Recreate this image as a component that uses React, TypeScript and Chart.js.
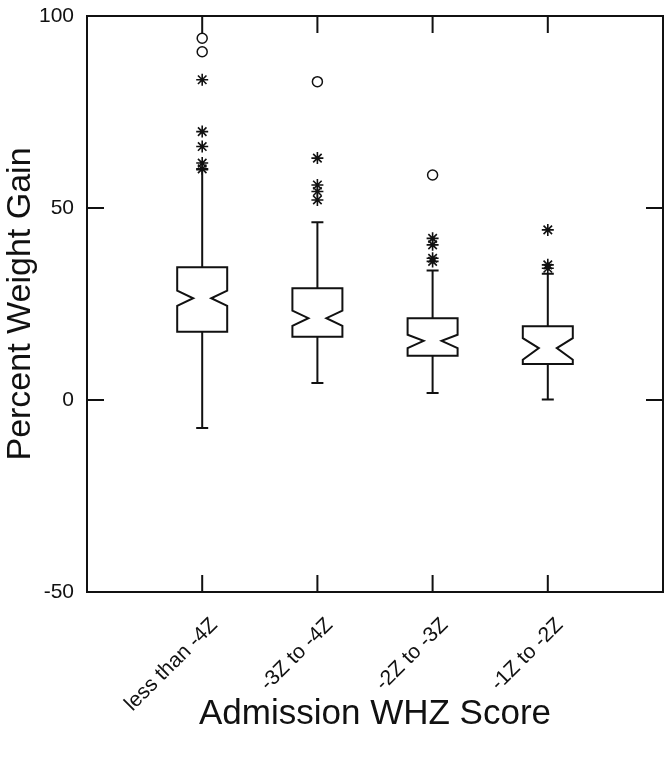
import React, { useEffect, useRef } from 'react';
import { Chart, registerables } from 'chart.js';

Chart.register(...registerables);

const categories = ['less than -4Z', '-3Z to -4Z', '-2Z to -3Z', '-1Z to -2Z'];
const whiskerLow = [-7.3, 4.4, 1.8, 0.1];
const q1 = [17.8, 16.5, 11.5, 9.4];
const median = [26.5, 21.3, 15.4, 13.5];
const q3 = [34.6, 29.1, 21.3, 19.2];
const whiskerHigh = [60.0, 46.3, 33.7, 32.9];
const notchLow = [24.5, 19.3, 13.5, 10.5];
const notchHigh = [28.5, 23.3, 17.0, 16.1];

// outside values (asterisks) and far outside values (circles), per category
const starValues = [
  [83.4, 69.9, 66.0, 61.7, 60.2],
  [63.0, 56.0, 54.3, 52.1],
  [42.1, 40.4, 36.9, 36.1],
  [44.3, 35.2, 34.3],
];
const circleValues = [[94.2, 90.7], [82.9], [58.6], []];

const yTicks = [-50, 0, 50, 100];
const FONT = "'Liberation Sans', Arial, Helvetica, sans-serif";
const INK = '#111';

const boxPlugin = {
  id: 'notchedBoxes',
  beforeDatasetsDraw(chart: any) {
    const { ctx, scales } = chart;
    const xs = scales.x;
    const ys = scales.y;
    const half = 25;
    const depth = 16;
    const cap = 6;
    ctx.save();
    ctx.strokeStyle = INK;
    ctx.lineWidth = 2;
    ctx.lineJoin = 'miter';
    categories.forEach((_, i) => {
      const cx = xs.getPixelForValue(i + 1);
      const yq1 = ys.getPixelForValue(q1[i]);
      const yq3 = ys.getPixelForValue(q3[i]);
      const ym = ys.getPixelForValue(median[i]);
      const ynl = ys.getPixelForValue(notchLow[i]);
      const ynh = ys.getPixelForValue(notchHigh[i]);
      const ywl = ys.getPixelForValue(whiskerLow[i]);
      const ywh = ys.getPixelForValue(whiskerHigh[i]);
      ctx.beginPath();
      ctx.moveTo(cx - half, yq3);
      ctx.lineTo(cx + half, yq3);
      ctx.lineTo(cx + half, ynh);
      ctx.lineTo(cx + half - depth, ym);
      ctx.lineTo(cx + half, ynl);
      ctx.lineTo(cx + half, yq1);
      ctx.lineTo(cx - half, yq1);
      ctx.lineTo(cx - half, ynl);
      ctx.lineTo(cx - half + depth, ym);
      ctx.lineTo(cx - half, ynh);
      ctx.closePath();
      ctx.stroke();
      ctx.beginPath();
      ctx.moveTo(cx, yq3);
      ctx.lineTo(cx, ywh);
      ctx.moveTo(cx - cap, ywh);
      ctx.lineTo(cx + cap, ywh);
      ctx.moveTo(cx, yq1);
      ctx.lineTo(cx, ywl);
      ctx.moveTo(cx - cap, ywl);
      ctx.lineTo(cx + cap, ywl);
      ctx.stroke();
    });
    ctx.restore();
  },
  afterDraw(chart: any) {
    const { ctx, chartArea, scales } = chart;
    const { left, right, top, bottom } = chartArea;
    const tl = 17;
    ctx.save();
    ctx.strokeStyle = INK;
    ctx.lineWidth = 2;
    ctx.strokeRect(left, top, right - left, bottom - top);
    ctx.beginPath();
    categories.forEach((_, i) => {
      const x = scales.x.getPixelForValue(i + 1);
      ctx.moveTo(x, bottom);
      ctx.lineTo(x, bottom - tl);
      ctx.moveTo(x, top);
      ctx.lineTo(x, top + tl);
    });
    yTicks.forEach((v) => {
      if (v === -50 || v === 100) return;
      const y = scales.y.getPixelForValue(v);
      ctx.moveTo(left, y);
      ctx.lineTo(left + tl, y);
      ctx.moveTo(right, y);
      ctx.lineTo(right - tl, y);
    });
    ctx.stroke();
    ctx.restore();
  },
};

export default function App() {
  const ref = useRef<HTMLCanvasElement | null>(null);

  useEffect(() => {
    if (!ref.current) return;
    const starPts: { x: number; y: number }[] = [];
    starValues.forEach((vals, i) => vals.forEach((v) => starPts.push({ x: i + 1, y: v })));
    const circlePts: { x: number; y: number }[] = [];
    circleValues.forEach((vals, i) => vals.forEach((v) => circlePts.push({ x: i + 1, y: v })));

    const chart = new Chart(ref.current, {
      type: 'scatter',
      data: {
        datasets: [
          {
            label: 'outside',
            data: starPts,
            pointStyle: 'star',
            pointRadius: 6,
            borderColor: INK,
            backgroundColor: INK,
            borderWidth: 1.6,
          },
          {
            label: 'far outside',
            data: circlePts,
            pointStyle: 'circle',
            pointRadius: 5,
            borderColor: INK,
            backgroundColor: 'rgba(0,0,0,0)',
            borderWidth: 1.5,
          },
        ],
      },
      options: {
        animation: false,
        responsive: false,
        devicePixelRatio: 1,
        layout: { padding: { top: 16, right: 9, left: 0, bottom: 0 } },
        plugins: { legend: { display: false }, tooltip: { enabled: false } },
        scales: {
          x: {
            type: 'linear',
            min: 0,
            max: 5,
            grid: { display: false, drawTicks: false },
            border: { display: false },
            afterBuildTicks: (s: any) => {
              s.ticks = categories.map((_, i) => ({ value: i + 1 }));
            },
            afterFit: (s: any) => {
              s.height = 167;
              s.paddingLeft = 0;
              s.paddingRight = 0;
            },
            ticks: {
              autoSkip: false,
              minRotation: 45,
              maxRotation: 45,
              padding: 21,
              labelOffset: 12,
              color: INK,
              font: { family: FONT, size: 21 },
              callback: (v: any) => categories[Math.round(Number(v)) - 1] ?? '',
            },
            title: {
              display: true,
              text: 'Admission WHZ Score',
              color: INK,
              font: { family: FONT, size: 35 },
              padding: { top: 0, bottom: 24 },
            },
          },
          y: {
            min: -50,
            max: 100,
            grid: { display: false, drawTicks: false },
            border: { display: false },
            afterBuildTicks: (s: any) => {
              s.ticks = yTicks.map((v) => ({ value: v }));
            },
            afterFit: (s: any) => {
              s.width = 87;
              s.paddingTop = 0;
              s.paddingBottom = 0;
            },
            ticks: {
              padding: 13,
              color: INK,
              font: { family: FONT, size: 21 },
            },
            title: {
              display: true,
              text: 'Percent Weight Gain',
              color: INK,
              font: { family: FONT, size: 34 },
              padding: { top: 0, bottom: 0 },
            },
          },
        },
      },
      plugins: [boxPlugin],
    } as any);
    return () => chart.destroy();
  }, []);

  return (
    <div style={{ position: 'fixed', left: 0, top: 0, width: 672, height: 759, background: '#fff' }}>
      <canvas ref={ref} width={672} height={759} style={{ display: 'block' }} />
    </div>
  );
}
